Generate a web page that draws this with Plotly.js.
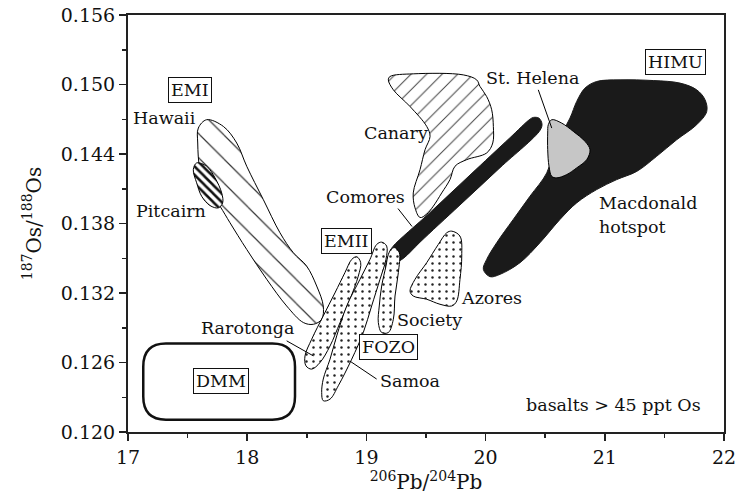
<!DOCTYPE html>
<html>
<head>
<meta charset="utf-8">
<script src="https://cdn.plot.ly/plotly-3.0.1.min.js"></script>
<style>
  html, body { margin: 0; padding: 0; background: #ffffff; }
  #chart { width: 737px; height: 503px; }
</style>
</head>
<body>
<div id="chart"></div>
<script>
// Ocean-island basalt fields in 206Pb/204Pb vs 187Os/188Os space (outlines, closed)
const hawaiiPb = [17.660, 17.800, 17.912, 17.996, 18.135, 18.275, 18.387, 18.499, 18.583, 18.638, 18.625, 18.555, 18.471, 18.331, 18.164, 17.996, 17.856, 17.772, 17.660, 17.604, 17.585, 17.590, 17.660];
const hawaiiOs = [0.14696, 0.14638, 0.14495, 0.14294, 0.14007, 0.13720, 0.13548, 0.13432, 0.13260, 0.13088, 0.12973, 0.12930, 0.12945, 0.13088, 0.13318, 0.13576, 0.13806, 0.13949, 0.14121, 0.14265, 0.14495, 0.14624, 0.14696];

const pitcairnPb = [17.576, 17.660, 17.730, 17.786, 17.794, 17.758, 17.688, 17.618, 17.576, 17.548, 17.576];
const pitcairnOs = [0.14323, 0.14294, 0.14194, 0.14064, 0.13978, 0.13935, 0.13955, 0.14035, 0.14151, 0.14265, 0.14323];

const canaryPb = [19.198, 19.393, 19.813, 19.925, 19.953, 20.009, 20.051, 20.065, 20.060, 20.009, 19.841, 19.743, 19.701, 19.632, 19.561, 19.506, 19.450, 19.408, 19.393, 19.450, 19.492, 19.534, 19.506, 19.366, 19.226, 19.184, 19.198];
const canaryOs = [0.15069, 0.15092, 0.15083, 0.15040, 0.14983, 0.14896, 0.14782, 0.14638, 0.14495, 0.14409, 0.14351, 0.14294, 0.14179, 0.14064, 0.13949, 0.13880, 0.13852, 0.13935, 0.14064, 0.14265, 0.14437, 0.14552, 0.14638, 0.14810, 0.14954, 0.15040, 0.15069];

const comoresPb = [19.164, 19.198, 19.223, 19.534, 19.869, 20.205, 20.372, 20.402, 20.448, 20.473, 20.457, 20.121, 19.785, 19.450, 19.315, 19.240, 19.164];
const comoresOs = [0.13413, 0.13559, 0.13602, 0.13895, 0.14218, 0.14541, 0.14700, 0.14716, 0.14709, 0.14661, 0.14605, 0.14282, 0.13960, 0.13639, 0.13503, 0.13456, 0.13413];

const rarotongaPb = [18.919, 18.952, 18.932, 18.862, 18.779, 18.695, 18.611, 18.541, 18.493, 18.485, 18.541, 18.638, 18.737, 18.820, 18.877, 18.919];
const rarotongaOs = [0.13513, 0.13462, 0.13346, 0.13146, 0.12945, 0.12743, 0.12600, 0.12543, 0.12571, 0.12657, 0.12801, 0.13002, 0.13203, 0.13376, 0.13490, 0.13513];

const samoaPb = [19.128, 19.170, 19.164, 19.114, 19.044, 18.974, 18.877, 18.764, 18.695, 18.638, 18.625, 18.638, 18.695, 18.751, 18.835, 18.946, 19.030, 19.086, 19.128];
const samoaOs = [0.13639, 0.13605, 0.13490, 0.13318, 0.13088, 0.12859, 0.12629, 0.12399, 0.12284, 0.12270, 0.12342, 0.12457, 0.12629, 0.12830, 0.13088, 0.13318, 0.13490, 0.13619, 0.13639];

const societyPb = [19.240, 19.276, 19.268, 19.240, 19.226, 19.184, 19.128, 19.100, 19.108, 19.128, 19.164, 19.184, 19.212, 19.240];
const societyOs = [0.13591, 0.13548, 0.13376, 0.13174, 0.12973, 0.12859, 0.12859, 0.12945, 0.13088, 0.13260, 0.13432, 0.13533, 0.13582, 0.13591];

const azoresPb = [19.716, 19.785, 19.800, 19.785, 19.758, 19.716, 19.617, 19.506, 19.393, 19.366, 19.408, 19.506, 19.603, 19.674, 19.716];
const azoresOs = [0.13734, 0.13691, 0.13519, 0.13318, 0.13131, 0.13088, 0.13103, 0.13146, 0.13174, 0.13217, 0.13318, 0.13462, 0.13619, 0.13720, 0.13734];

const macdonaldPb = [19.981, 20.037, 20.121, 20.289, 20.456, 20.624, 20.764, 20.932, 21.100, 21.268, 21.435, 21.603, 21.771, 21.855, 21.841, 21.771, 21.631, 21.407, 21.128, 20.932, 20.834, 20.764, 20.708, 20.582, 20.513, 20.372, 20.232, 20.093, 20.009, 19.981];
const macdonaldOs = [0.13404, 0.13341, 0.13361, 0.13462, 0.13634, 0.13835, 0.13978, 0.14093, 0.14179, 0.14250, 0.14380, 0.14523, 0.14653, 0.14767, 0.14868, 0.14954, 0.15012, 0.15034, 0.15040, 0.15026, 0.14969, 0.14853, 0.14710, 0.14466, 0.14237, 0.14035, 0.13835, 0.13634, 0.13490, 0.13404];

const stHelenaPb = [20.555, 20.638, 20.736, 20.834, 20.876, 20.848, 20.764, 20.680, 20.597, 20.555, 20.532, 20.521, 20.521, 20.526, 20.555];
const stHelenaOs = [0.14696, 0.14667, 0.14595, 0.14509, 0.14437, 0.14351, 0.14280, 0.14222, 0.14194, 0.14207, 0.14294, 0.14437, 0.14581, 0.14653, 0.14696];

// DMM reservoir box (Pb range, Os range) and its corner rounding in axis units
const dmmPb = [17.128, 18.401];
const dmmOs = [0.12106, 0.12764];
const dmmCorner = [0.19, 0.0020];

// Field names (centred)
const labelText = ['Hawaii', 'Pitcairn', 'Canary', 'Comores', 'Society', 'Azores', 'Samoa', 'Rarotonga', 'St. Helena', 'basalts &gt; 45 ppt Os'];
const labelPb   = [17.31, 17.36, 19.25, 18.992, 19.527, 20.051, 19.366, 18.003, 20.393, 21.077];
const labelOs   = [0.14713, 0.13906, 0.14584, 0.14028, 0.12967, 0.13160, 0.12442, 0.12896, 0.15053, 0.12233];

// Two-line name, left aligned
const macdonaldLines = ['Macdonald', 'hotspot'];
const macdonaldLinePb = [20.932, 20.932];
const macdonaldLineOs = [0.13981, 0.13774];

// Mantle end-member boxes
const boxText = ['EMI', 'EMII', 'FOZO', 'HIMU', 'DMM'];
const boxPb   = [17.524, 18.835, 19.184, 21.589, 17.779];
const boxOs   = [0.14950, 0.13648, 0.12730, 0.15191, 0.12438];

// Leader lines from labels to fields: [start, end]
const leaderPb = [[19.265, 19.383], [18.862, 19.086], [18.331, 18.555], [20.442, 20.555]];
const leaderOs = [[0.13929, 0.13774], [0.12612, 0.12457], [0.12787, 0.12657], [0.14954, 0.14624]];

// Axis ticks
const xTicks = [17, 18, 19, 20, 21, 22];
const yTicks = [0.120, 0.126, 0.132, 0.138, 0.144, 0.150, 0.156];

const FONT = 'DejaVu Serif';
const INK = '#111111';

function field(px, py, fillOpts) {
  return Object.assign({
    type: 'scatter', mode: 'lines', x: px, y: py,
    fill: 'toself',
    line: { shape: 'spline', smoothing: 1, color: '#000', width: 1 },
    hoverinfo: 'skip', showlegend: false
  }, fillOpts);
}

const dotFill = { fillcolor: '#ffffff', fillpattern: { shape: '.', size: 7, solidity: 0.1, fgcolor: '#222', bgcolor: '#ffffff', fillmode: 'replace' } };
const solidBlack = { fillcolor: '#1a1a1a', line: { shape: 'spline', smoothing: 1, color: '#1a1a1a', width: 1 } };

const traces = [
  field(hawaiiPb, hawaiiOs, { fillcolor: '#ffffff', fillpattern: { shape: '\\', size: 17, solidity: 0.07, fgcolor: '#333', bgcolor: '#ffffff', fillmode: 'replace' } }),
  field(pitcairnPb, pitcairnOs, { fillcolor: '#ffffff', fillpattern: { shape: '\\', size: 6, solidity: 0.42, fgcolor: '#111', bgcolor: '#ffffff', fillmode: 'replace' } }),
  field(canaryPb, canaryOs, { fillcolor: '#ffffff', fillpattern: { shape: '/', size: 11, solidity: 0.09, fgcolor: '#444', bgcolor: '#ffffff', fillmode: 'replace' } }),
  field(comoresPb, comoresOs, solidBlack),
  field(rarotongaPb, rarotongaOs, dotFill),
  field(samoaPb, samoaOs, dotFill),
  field(societyPb, societyOs, dotFill),
  field(azoresPb, azoresOs, dotFill),
  field(macdonaldPb, macdonaldOs, solidBlack),
  field(stHelenaPb, stHelenaOs, { fillcolor: '#c6c6c6' })
];

// leader lines as one trace with gaps
const lx = [], ly = [];
leaderPb.forEach((seg, i) => { lx.push(seg[0], seg[1], null); ly.push(leaderOs[i][0], leaderOs[i][1], null); });
traces.push({ type: 'scatter', mode: 'lines', x: lx, y: ly, line: { color: '#000', width: 1 }, hoverinfo: 'skip', showlegend: false });

const labelFont = { family: FONT, size: 17.5, color: INK };
const annotations = [];
labelText.forEach((t, i) => annotations.push({
  x: labelPb[i], y: labelOs[i], xref: 'x', yref: 'y', text: t, showarrow: false,
  font: labelFont, xanchor: 'center', yanchor: 'middle'
}));
macdonaldLines.forEach((t, i) => annotations.push({
  x: macdonaldLinePb[i], y: macdonaldLineOs[i], xref: 'x', yref: 'y', text: t, showarrow: false,
  font: labelFont, xanchor: 'left', yanchor: 'middle'
}));
boxText.forEach((t, i) => annotations.push({
  x: boxPb[i], y: boxOs[i], xref: 'x', yref: 'y', text: t, showarrow: false,
  font: labelFont, xanchor: 'center', yanchor: 'middle',
  bordercolor: INK, borderwidth: 1, borderpad: 2, bgcolor: '#ffffff'
}));

// rounded DMM box path
const [x0, x1] = dmmPb, [y0, y1] = dmmOs, [rx, ry] = dmmCorner;
const dmmPath = `M ${x0 + rx},${y0} L ${x1 - rx},${y0} Q ${x1},${y0} ${x1},${y0 + ry} ` +
  `L ${x1},${y1 - ry} Q ${x1},${y1} ${x1 - rx},${y1} L ${x0 + rx},${y1} Q ${x0},${y1} ${x0},${y1 - ry} ` +
  `L ${x0},${y0 + ry} Q ${x0},${y0} ${x0 + rx},${y0} Z`;

const axisCommon = {
  showgrid: false, zeroline: false, showline: true, linecolor: '#222', linewidth: 2, mirror: true,
  ticks: 'outside', ticklen: 7, tickwidth: 1.5, tickcolor: '#222',
  tickfont: { family: FONT, size: 19, color: INK }
};

const layout = {
  width: 737, height: 503,
  font: { family: FONT, size: 17.5, color: INK },
  margin: { l: 128, r: 13, t: 15, b: 71 },
  paper_bgcolor: '#ffffff', plot_bgcolor: '#ffffff',
  showlegend: false, hovermode: false,
  xaxis: Object.assign({}, axisCommon, {
    range: [17, 22], tickvals: xTicks, ticktext: xTicks.map(String),
    minor: { dtick: 0.5, ticks: 'outside', ticklen: 4, tickwidth: 1.5, tickcolor: '#222', showgrid: false },
    title: { text: '<sup>206</sup>Pb/<sup>204</sup>Pb', font: { family: FONT, size: 20, color: INK }, standoff: 8 }
  }),
  yaxis: Object.assign({}, axisCommon, {
    range: [0.120, 0.156], tickvals: yTicks, ticktext: yTicks.map(v => v.toFixed(3)),
    minor: { dtick: 0.003, ticks: 'outside', ticklen: 4, tickwidth: 1.5, tickcolor: '#222', showgrid: false },
    title: { text: '<sup>187</sup>Os/<sup>188</sup>Os', font: { family: FONT, size: 20, color: INK }, standoff: 14 }
  }),
  shapes: [{ type: 'path', xref: 'x', yref: 'y', path: dmmPath, line: { color: INK, width: 2.5 }, fillcolor: 'rgba(0,0,0,0)' }],
  annotations: annotations
};

Plotly.newPlot('chart', traces, layout, { staticPlot: true, displayModeBar: false });
</script>
</body>
</html>
